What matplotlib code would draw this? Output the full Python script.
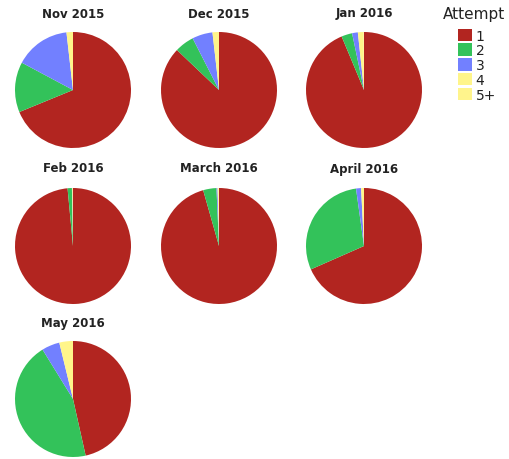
import matplotlib
matplotlib.use("Agg")
import matplotlib.pyplot as plt
from matplotlib.patches import Patch

months = ["Nov 2015", "Dec 2015", "Jan 2016", "Feb 2016", "March 2016", "April 2016", "May 2016"]
attempts = ["1", "2", "3", "4", "5+"]
colors = ["#B22520", "#33C25A", "#7280FF", "#FFF58A", "#FFF48C"]

share_1 = [0.688, 0.871, 0.937, 0.985, 0.956, 0.684, 0.465]
share_2 = [0.140, 0.054, 0.030, 0.012, 0.037, 0.294, 0.447]
share_3 = [0.154, 0.057, 0.016, 0.001, 0.003, 0.014, 0.050]
share_4 = [0.018, 0.018, 0.016, 0.002, 0.003, 0.008, 0.038]
share_5 = [0.000, 0.000, 0.001, 0.000, 0.001, 0.000, 0.000]

W, H = 510, 460
fig = plt.figure(figsize=(W / 100, H / 100), dpi=100)

centers_x = [73, 219, 364]
centers_y = [91, 247, 400]
title_y = [14, 169, 323]
r = 58

for i, m in enumerate(months):
    cx = centers_x[i % 3]
    cy = centers_y[i // 3]
    ax = fig.add_axes([(cx - r) / W, 1 - (cy + r) / H, 2 * r / W, 2 * r / H])
    vals = [share_1[i], share_2[i], share_3[i], share_4[i], share_5[i]]
    ax.pie(vals, colors=colors, startangle=90, counterclock=False,
           wedgeprops=dict(linewidth=0), radius=1)
    ax.set_xlim(-1, 1)
    ax.set_ylim(-1, 1)
    ax.set_aspect("equal")
    fig.text(cx / W, 1 - title_y[i // 3] / H, m, ha="center", va="center",
             fontsize=8.5, fontweight="bold", color="#222222")

fig.text(443 / W, 1 - 14 / H, "Attempt", ha="left", va="center", fontsize=11, color="#222222")

handles = [Patch(facecolor=c, edgecolor="none", label=a) for c, a in zip(colors, attempts)]
leg = fig.legend(handles=handles, loc="upper left",
                 bbox_to_anchor=(448 / W, 1 - 20 / H), frameon=False,
                 fontsize=10, handlelength=1.0, handleheight=1.0,
                 handletextpad=0.3, labelspacing=0.05, borderpad=0.2)
for t in leg.get_texts():
    t.set_color("#222222")

fig.savefig("out.png", dpi=100)
